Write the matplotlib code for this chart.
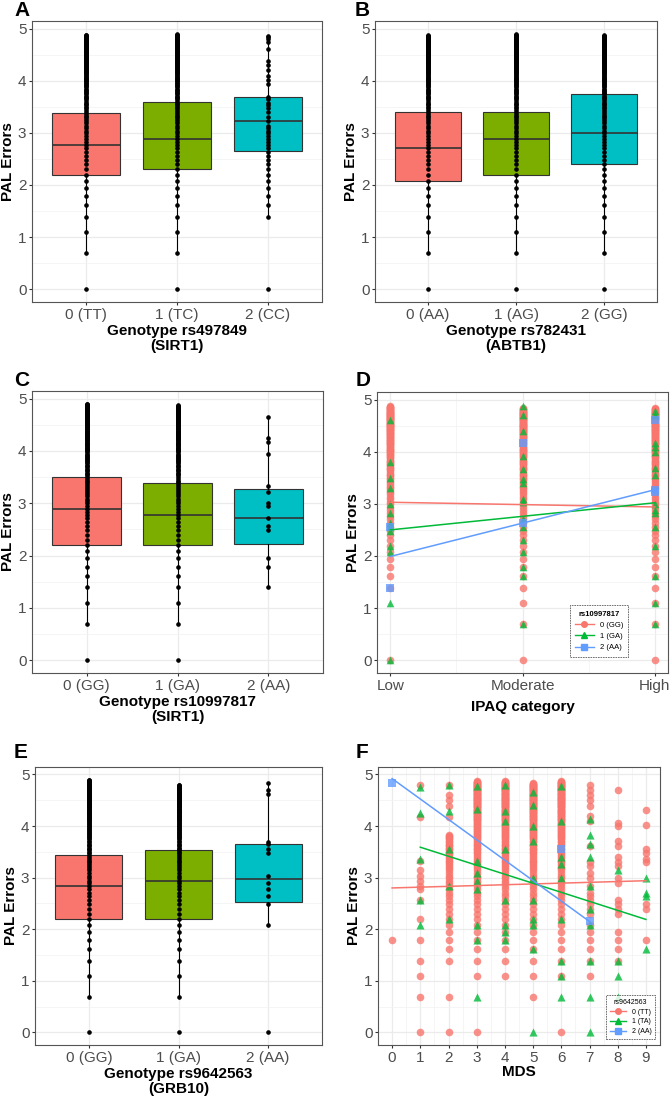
import numpy as np
import matplotlib.pyplot as plt
from matplotlib.lines import Line2D

plt.rcParams['font.family'] = ['Liberation Sans', 'DejaVu Sans']

# observed PAL error levels (log scale) read from the dot columns
pal_levels = [0, 0.69, 1.10, 1.39, 1.61, 1.79, 1.95, 2.08, 2.20, 2.30, 2.40, 2.48, 2.56, 2.64,
              2.71, 2.77, 2.83, 2.89, 2.94, 3.00, 3.04, 3.09, 3.14, 3.18, 3.22, 3.26, 3.30, 3.33,
              3.37, 3.40, 3.43, 3.47, 3.50, 3.53, 3.56, 3.58, 3.61, 3.64, 3.66, 3.69, 3.71, 3.74,
              3.76, 3.78, 3.81, 3.83, 3.85, 3.87, 3.89, 3.91, 3.93, 3.95, 3.97, 3.99, 4.01, 4.03,
              4.04, 4.06, 4.08, 4.09, 4.11, 4.13, 4.14, 4.16, 4.17, 4.19, 4.20, 4.22, 4.23, 4.25,
              4.26, 4.28, 4.29, 4.30, 4.32, 4.33, 4.34, 4.36, 4.37, 4.38, 4.39, 4.41, 4.42, 4.43,
              4.44, 4.45, 4.47, 4.48, 4.49, 4.50, 4.51, 4.52, 4.53, 4.54, 4.55, 4.56, 4.57, 4.58,
              4.60, 4.61, 4.62, 4.63, 4.64, 4.65, 4.66, 4.67, 4.68, 4.69, 4.70, 4.71, 4.72, 4.73,
              4.74, 4.75, 4.76, 4.77, 4.78, 4.79, 4.80, 4.81, 4.82, 4.83, 4.84, 4.85, 4.86, 4.87,
              4.88, 4.89, 4.90]


def span(lo, hi):
    return [v for v in pal_levels if lo <= v <= hi]


# ---- box panels: q1, median, q3, whisker low, whisker high ----
a_labels = ["0 (TT)", "1 (TC)", "2 (CC)"]
a_q1 = [2.20, 2.30, 2.65]
a_med = [2.77, 2.89, 3.22]
a_q3 = [3.38, 3.59, 3.68]
a_wlo = [0.69, 0.69, 1.39]
a_whi = [4.88, 4.89, 4.85]
a_dots = [span(0, 4.88), span(0, 4.89),
          [0, 1.39, 1.61, 1.79, 1.95, 2.08, 2.20, 2.30, 2.40, 2.48, 2.56, 2.64, 2.71, 2.77, 2.83,
           2.89, 2.94, 3.00, 3.04, 3.09, 3.14, 3.22, 3.30, 3.40, 3.47, 3.53, 3.58, 3.64, 3.69, 3.93,
           4.01, 4.09, 4.20, 4.30, 4.38, 4.60, 4.75, 4.80, 4.83, 4.85]]

b_labels = ["0 (AA)", "1 (AG)", "2 (GG)"]
b_q1 = [2.08, 2.20, 2.40]
b_med = [2.71, 2.89, 3.00]
b_q3 = [3.40, 3.40, 3.74]
b_wlo = [0.69, 0.69, 0.69]
b_whi = [4.87, 4.89, 4.87]
b_dots = [span(0, 4.87), span(0, 4.89), span(0, 4.87)]

c_labels = ["0 (GG)", "1 (GA)", "2 (AA)"]
c_q1 = [2.20, 2.20, 2.22]
c_med = [2.89, 2.77, 2.71]
c_q3 = [3.50, 3.38, 3.28]
c_wlo = [0.69, 0.69, 1.39]
c_whi = [4.90, 4.87, 4.65]
c_dots = [span(0, 4.90), span(0, 4.87),
          [1.39, 1.79, 1.95, 2.48, 2.56, 2.71, 2.94, 3.00, 3.22, 3.33, 3.95, 4.17, 4.25, 4.65]]

e_labels = ["0 (GG)", "1 (GA)", "2 (AA)"]
e_q1 = [2.20, 2.20, 2.52]
e_med = [2.83, 2.94, 2.97]
e_q3 = [3.43, 3.53, 3.66]
e_wlo = [0.69, 0.69, 2.08]
e_whi = [4.90, 4.80, 4.83]
e_dots = [span(0, 4.90), span(0, 4.80),
          [0, 2.08, 2.48, 2.64, 2.77, 2.89, 3.04, 3.47, 3.56, 3.66, 3.69, 4.62, 4.70, 4.83]]

# ---- panel D: IPAQ category vs PAL errors, by rs10997817 ----
d_cats = ["Low", "Moderate", "High"]
d_groups = ["0 (GG)", "1 (GA)", "2 (AA)"]
d_red = [[0] + span(1.39, 4.87), span(0, 4.83), span(0, 4.83)]
d_green = [[0, 1.10, 2.08, 2.20, 2.48, 2.56, 2.64, 2.83, 3.00, 3.30, 3.50, 3.80, 4.60],
           [0.69, 1.61, 1.79, 2.08, 2.30, 2.56, 2.71, 3.04, 3.09, 3.40, 3.47, 3.66, 3.91, 4.40, 4.70, 4.87],
           [0.69, 1.10, 1.61, 2.20, 2.56, 2.83, 2.89, 3.00, 3.56, 3.69, 4.00, 4.09, 4.17, 4.70, 4.79]]
d_blue = [[1.39, 2.56], [2.64, 4.17], [3.22, 3.26, 4.60]]
d_fit_start = [3.03, 2.50, 1.99]
d_fit_end = [2.94, 3.02, 3.27]

# ---- panel F: MDS vs PAL errors, by rs9642563 ----
f_groups = ["0 (TT)", "1 (TA)", "2 (AA)"]
f_red = [[1.79],
         [0, 0.69, 1.10, 1.39, 1.79, 2.20, 2.56, 2.77, 2.83, 2.94, 3.04, 3.14, 3.33, 4.17, 4.80],
         [0, 0.69, 1.39, 1.61] + span(1.79, 3.83) + [4.17, 4.39, 4.50, 4.60, 4.80],
         [0, 1.10, 1.39, 1.61] + span(1.79, 4.87),
         [1.10, 1.39, 1.61] + span(1.79, 4.87),
         [0.69, 1.10, 1.39, 1.61] + span(1.79, 4.83),
         [0, 1.10, 1.39, 1.61] + span(1.79, 4.87),
         [1.10, 1.39, 1.61, 1.79, 1.95, 2.08, 2.30, 2.40, 2.48, 2.56, 2.64, 2.71, 2.83, 3.00, 3.09,
          3.22, 3.30, 3.61, 4.09, 4.20, 4.39, 4.50, 4.60, 4.70, 4.80],
         [1.39, 1.61, 1.79, 1.95, 2.30, 2.40, 2.48, 2.56, 2.89, 3.00, 3.22, 3.30, 3.40, 3.61, 3.71,
          4.01, 4.05, 4.70],
         [1.79, 2.40, 2.48, 3.30, 3.37, 3.47, 3.56, 4.03, 4.32]]
f_green = [[],
           [2.08, 2.56, 3.37, 4.25, 4.75],
           [2.20, 2.83, 3.56, 4.30, 4.80],
           [0.69, 1.79, 2.08, 2.77, 2.94, 3.09, 3.33, 4.33, 4.77],
           [1.79, 1.95, 2.08, 2.56, 3.56, 4.09, 4.30, 4.80],
           [0, 1.61, 2.08, 2.20, 2.56, 3.00, 3.71, 4.01, 4.40, 4.66],
           [0.69, 1.10, 1.39, 2.20, 3.00, 3.26, 3.40, 4.09, 4.77],
           [0, 0.69, 1.39, 2.08, 2.40, 2.83, 3.40, 3.66, 3.83, 4.14],
           [0.69, 1.10, 1.39, 3.14],
           [1.61, 2.64, 2.71, 3.00]]
f_blue_x = [0, 6, 7]
f_blue_y = [4.83, 3.56, 2.15]
f_fit_x = [[0, 9], [1, 9], [0, 7]]
f_fit_y = [[2.80, 2.94], [3.59, 2.19], [4.92, 2.15]]

box_cols = ["#F8766D", "#7CAE00", "#00BFC4"]
pt_cols = ["#F8766D", "#00BA38", "#619CFF"]
W, H = 670, 1102

fig = plt.figure(figsize=(W / 100, H / 100), dpi=100)


def make_ax(l, t, r, b):
    return fig.add_axes([l / W, 1 - b / H, (r - l) / W, (b - t) / H])


def style(ax):
    ax.set_ylim(-0.245, 5.145)
    ax.set_yticks([0, 1, 2, 3, 4, 5])
    ax.set_yticks([0.5, 1.5, 2.5, 3.5, 4.5], minor=True)
    ax.grid(True, which="major", color="#EBEBEB", lw=0.9, zorder=0)
    ax.grid(True, which="minor", color="#F2F2F2", lw=0.5, zorder=0)
    ax.set_axisbelow(True)
    for s in ax.spines.values():
        s.set_color("#555555")
        s.set_linewidth(0.8)
    ax.tick_params(which="major", length=2.5, color="#333333", labelsize=11, labelcolor="#4D4D4D", pad=1.5)
    ax.tick_params(which="minor", length=0)
    ax.set_ylabel("PAL Errors", fontsize=11, fontweight="bold", labelpad=2)


def box_panel(ax, labels, q1, med, q3, wlo, whi, dots, xlabel):
    stats = []
    for i in range(3):
        stats.append(dict(med=med[i], q1=q1[i], q3=q3[i], whislo=wlo[i], whishi=whi[i], fliers=[]))
    bp = ax.bxp(stats, positions=[1, 2, 3], widths=0.75, patch_artist=True, showcaps=False,
                boxprops=dict(edgecolor="#333333", linewidth=0.8),
                medianprops=dict(color="#333333", linewidth=1.2),
                whiskerprops=dict(color="black", linewidth=0.8))
    for patch, c in zip(bp["boxes"], box_cols):
        patch.set_facecolor(c)
    for i in range(3):
        ax.plot([i + 1] * len(dots[i]), dots[i], "o", color="black", ms=2.3, zorder=5)
    ax.set_xlim(0.4, 3.6)
    ax.set_xticks([1, 2, 3])
    ax.set_xticklabels(labels)
    ax.set_xlabel(xlabel, fontsize=11, fontweight="bold", labelpad=2, linespacing=1.05)
    style(ax)


axA = make_ax(32, 21, 322, 302)
box_panel(axA, a_labels, a_q1, a_med, a_q3, a_wlo, a_whi, a_dots, "Genotype rs497849\n(SIRT1)")
axB = make_ax(375, 21, 657, 302)
box_panel(axB, b_labels, b_q1, b_med, b_q3, b_wlo, b_whi, b_dots, "Genotype rs782431\n(ABTB1)")
axC = make_ax(32, 391, 323, 673)
box_panel(axC, c_labels, c_q1, c_med, c_q3, c_wlo, c_whi, c_dots, "Genotype rs10997817\n(SIRT1)")
axE = make_ax(35, 767, 322, 1045)
box_panel(axE, e_labels, e_q1, e_med, e_q3, e_wlo, e_whi, e_dots, "Genotype rs9642563\n(GRB10)")

# panel D
axD = make_ax(377, 392, 668, 673)
markers = ["o", "^", "s"]
d_sets = [d_red, d_green, d_blue]
for g in range(3):
    for k in range(3):
        ys = d_sets[g][k]
        axD.scatter([k + 1] * len(ys), ys, marker=markers[g], s=30, color=pt_cols[g],
                    alpha=0.8, linewidths=0, zorder=3)
for g in range(3):
    axD.plot([1, 3], [d_fit_start[g], d_fit_end[g]], color=pt_cols[g], lw=1.1, zorder=4)
axD.set_xlim(0.9, 3.1)
axD.set_xticks([1, 2, 3])
axD.set_xticks([1.5, 2.5], minor=True)
axD.set_xticklabels(d_cats)
axD.set_xlabel("IPAQ category", fontsize=11, fontweight="bold", labelpad=5)
style(axD)
hd = [Line2D([], [], color=pt_cols[g], marker=markers[g], ms=4, lw=1) for g in range(3)]
legD = axD.legend(hd, d_groups, title="rs10997817", loc="lower left", bbox_to_anchor=(0.65, 0.045),
                  fontsize=5.5, title_fontsize=5.5, frameon=True, fancybox=False,
                  edgecolor="#333333", handlelength=2.4, borderpad=0.7, labelspacing=0.5)
legD.get_title().set_fontweight("bold")
legD.get_frame().set_linestyle((0, (2, 1)))
legD.get_frame().set_linewidth(0.6)

# panel F
axF = make_ax(378, 767, 660, 1045)
for x in range(10):
    axF.scatter([x] * len(f_red[x]), f_red[x], marker="o", s=30, color=pt_cols[0],
                alpha=0.8, linewidths=0, zorder=3)
    axF.scatter([x] * len(f_green[x]), f_green[x], marker="^", s=34, color=pt_cols[1],
                alpha=0.8, linewidths=0, zorder=3)
axF.scatter(f_blue_x, f_blue_y, marker="s", s=28, color=pt_cols[2], alpha=0.8, linewidths=0, zorder=3)
for g in range(3):
    axF.plot(f_fit_x[g], f_fit_y[g], color=pt_cols[g], lw=1.1, zorder=4)
axF.set_xlim(-0.45, 9.45)
axF.set_xticks(range(10))
axF.set_xticks(np.arange(-0.5, 9.6, 1.0), minor=True)
axF.set_xlabel("MDS", fontsize=11, fontweight="bold", labelpad=0)
style(axF)
hf = [Line2D([], [], color=pt_cols[g], marker=markers[g], ms=4, lw=1) for g in range(3)]
legF = axF.legend(hf, f_groups, title="rs9642563", loc="lower right", bbox_to_anchor=(0.995, 0.01),
                  fontsize=5, title_fontsize=5, frameon=True, fancybox=False,
                  edgecolor="#333333", handlelength=2.4, borderpad=0.5, labelspacing=0.4)
legF.get_frame().set_linestyle((0, (2, 1)))
legF.get_frame().set_linewidth(0.6)

for lab, x, y in [("A", 14, 10), ("B", 355, 10), ("C", 14, 380), ("D", 356, 380),
                  ("E", 14, 752), ("F", 356, 752)]:
    fig.text(x / W, 1 - y / H, lab, fontsize=15, fontweight="bold", va="center", ha="left")

fig.savefig("out.png", dpi=100)
